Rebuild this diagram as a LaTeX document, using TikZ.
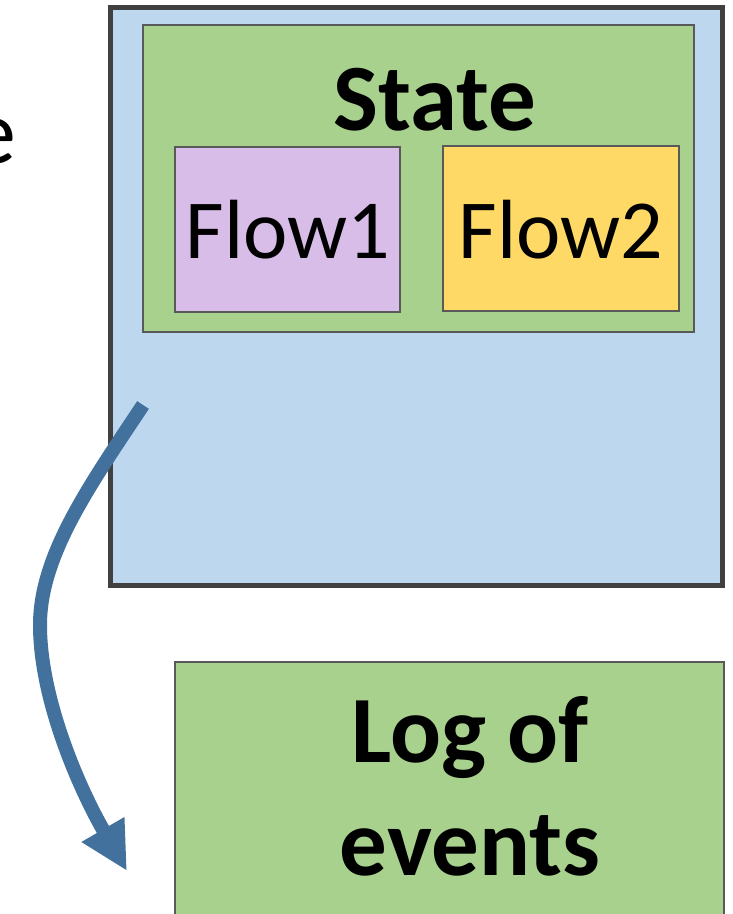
\documentclass[tikz,border=0pt]{standalone}
\usepackage{fontspec}
\setmainfont{Carlito}
\usetikzlibrary{arrows.meta}
\definecolor{outerblue}{HTML}{BDD7EE}
\definecolor{stategreen}{HTML}{A9D18E}
\definecolor{flowpurple}{HTML}{D7BDE8}
\definecolor{flowgold}{HTML}{FFD966}
\definecolor{edgegray}{HTML}{404040}
\definecolor{thingray}{HTML}{595959}
\definecolor{arrowblue}{HTML}{41719C}
\tikzset{
  outerbox/.style={draw=edgegray, line width=5pt, fill=outerblue},
  innerbox/.style={draw=thingray, line width=1.8pt},
  bigbold/.style={font=\fontsize{95}{113}\selectfont\bfseries, align=center, inner sep=0pt},
  flowtext/.style={font=\fontsize{84}{98}\selectfont, inner sep=0pt},
  flowarrow/.style={draw=arrowblue, line width=14pt, -{Triangle[width=46pt,length=48pt]}}
}
\begin{document}
\begin{tikzpicture}[x=1pt,y=-1pt]
\useasboundingbox (0,0) rectangle (732,914);
% outer container with the state
\draw[outerbox] (110,7) rectangle (722,585);
\draw[innerbox, fill=stategreen] (143,25) rectangle (694,332);
\node[bigbold, anchor=base] (state) at (435,130) {State};
\draw[innerbox, fill=flowpurple] (175,147) rectangle (400,312);
\node[flowtext, anchor=base] (flow1) at (288,258) {Flow1};
\draw[innerbox, fill=flowgold] (443,146) rectangle (679,311);
\node[flowtext, anchor=base] (flow2) at (561,258) {Flow2};
% partial label at the left edge
\node[font=\fontsize{92}{110}\selectfont, inner sep=0pt, anchor=base east] (lbl) at (16,163) {e};
% event log
\draw[innerbox, fill=stategreen] (175,662) rectangle (724,930);
\node[bigbold, anchor=base] (log1) at (470,762) {Log of};
\node[bigbold, anchor=base] (log2) at (470,875) {events};
% arrow from state to log
\coordinate (astart) at (143,405);
\coordinate (aend) at (127,871);
\draw[flowarrow] (astart) .. controls (90,485) and (40,555) .. (40,625)
  .. controls (40,700) and (80,790) .. (aend);
\end{tikzpicture}
\end{document}
